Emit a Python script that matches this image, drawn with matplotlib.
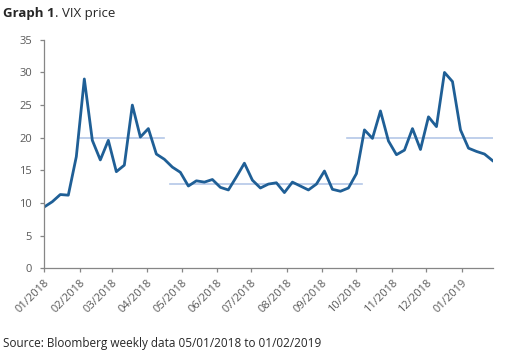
import pandas as pd
import matplotlib
matplotlib.use('Agg')
import matplotlib.pyplot as plt
import matplotlib.dates as mdates

# Datos semanales del VIX (05/01/2018 a 01/02/2019)
fechas = pd.date_range('2018-01-05', periods=57, freq='7D')
vix = [9.4, 10.2, 11.3, 11.2, 17.1, 29.0, 19.6, 16.6, 19.6, 14.8,
       15.8, 25.0, 20.1, 21.4, 17.5, 16.7, 15.5, 14.7, 12.6, 13.4,
       13.2, 13.6, 12.4, 12.0, 14.0, 16.1, 13.5, 12.3, 12.9, 13.1,
       11.6, 13.2, 12.6, 12.0, 12.9, 14.9, 12.1, 11.8, 12.3, 14.5,
       21.2, 19.9, 24.1, 19.5, 17.4, 18.1, 21.4, 18.2, 23.2, 21.7,
       30.0, 28.6, 21.2, 18.4, 17.9, 17.5, 16.5]

# Promedios por tramo
tramos_inicio = ['2018-02-05', '2018-04-25', '2018-09-27']
tramos_fin = ['2018-04-20', '2018-10-10', '2019-02-02']
tramos_media = [20.0, 12.9, 20.0]

ticks_x = [pd.Timestamp('2018-01-05') + pd.DateOffset(months=k) for k in range(13)]

gris = '#595959'
plt.rcParams['font.family'] = ['Open Sans', 'DejaVu Sans']

fig = plt.figure(figsize=(5.07, 3.57), dpi=100)
ax = fig.add_axes([44.3 / 507, (357 - 268.3) / 357, (492.5 - 44.3) / 507, (268.3 - 39.8) / 357])

for ini, fin, m in zip(tramos_inicio, tramos_fin, tramos_media):
    ax.plot([pd.Timestamp(ini), pd.Timestamp(fin)], [m, m], color='#b4c7e7', lw=1.2, zorder=1)

ax.plot(fechas, vix, color='#1f5f96', lw=2.0, zorder=2)

ax.set_ylim(0, 35)
ax.set_yticks(range(0, 36, 5))
ax.set_xlim(pd.Timestamp('2018-01-05'), pd.Timestamp('2019-02-01'))
ax.set_xticks(ticks_x)
ax.xaxis.set_major_formatter(mdates.DateFormatter('%m/%Y'))
plt.setp(ax.get_xticklabels(), rotation=45, ha='right', rotation_mode='anchor')

for lado in ['top', 'right']:
    ax.spines[lado].set_visible(False)
for lado in ['left', 'bottom']:
    ax.spines[lado].set_color('#868686')
    ax.spines[lado].set_linewidth(0.9)
ax.tick_params(axis='both', colors='#868686', labelcolor=gris, labelsize=8, length=3, width=0.9)
ax.tick_params(axis='y', pad=6)

# Título: parte en negrita seguida de texto normal
t1 = fig.text(3 / 507, 1 - 14 / 357, 'Graph 1', fontsize=9.5, color='#262626', va='center',
              ha='left', fontweight='bold')
fig.canvas.draw()
bb = t1.get_window_extent(renderer=fig.canvas.get_renderer())
fig.text(bb.x1 / 507, 1 - 14 / 357, '. VIX price', fontsize=9.5, color='#262626', va='center', ha='left')

fig.text(3 / 507, 1 - 343 / 357, 'Source: Bloomberg weekly data 05/01/2018 to 01/02/2019',
         fontsize=8.5, color='#262626', va='center', ha='left')

fig.savefig('out.png', dpi=100)
